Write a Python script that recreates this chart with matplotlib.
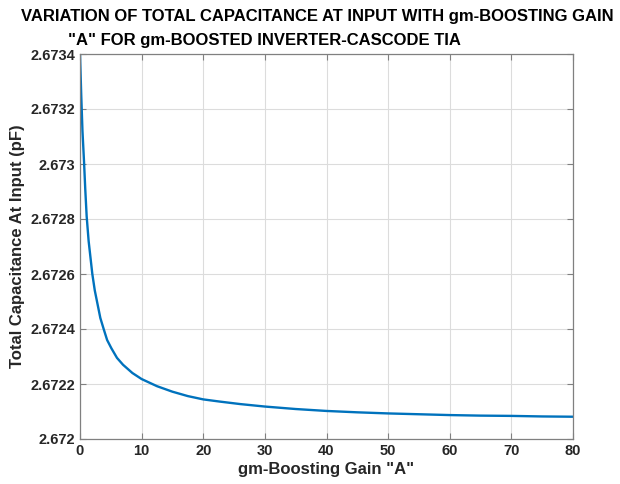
import matplotlib
matplotlib.use("Agg")
import matplotlib.pyplot as plt

plt.rcParams['font.family'] = ['Liberation Sans', 'DejaVu Sans']

# values (gain A vs total input capacitance in pF)
gain_a = [0, 0.2, 0.4, 0.65, 0.85, 1.08, 1.4, 1.7, 2.0, 2.4, 2.76, 3.3,
          3.84, 4.4, 5.09, 6.0, 6.98, 8.5, 10, 12.5, 15, 17.5, 20, 22.7, 26,
          30, 35, 40, 45, 50, 55, 60, 65, 70, 75, 80]
cap_pf = [2.67340, 2.67325, 2.67312, 2.67301, 2.67291, 2.67281, 2.67272,
          2.67266, 2.67260, 2.67254, 2.67250, 2.67244, 2.67240, 2.67236,
          2.67233, 2.672295, 2.67227, 2.67224, 2.672218, 2.672192,
          2.672172, 2.672156, 2.672144, 2.672136, 2.672127, 2.672118,
          2.672109, 2.672102, 2.672097, 2.672093, 2.672090, 2.672087,
          2.672085, 2.672084, 2.672082, 2.672081]

x_ticks = [0, 10, 20, 30, 40, 50, 60, 70, 80]
y_ticks = [2.672, 2.6722, 2.6724, 2.6726, 2.6728, 2.673, 2.6732, 2.6734]
y_tick_labels = ['2.672', '2.6722', '2.6724', '2.6726', '2.6728', '2.673', '2.6732', '2.6734']

title_1 = 'VARIATION OF TOTAL CAPACITANCE AT INPUT WITH gm-BOOSTING GAIN'
title_2 = '"A" FOR gm-BOOSTED INVERTER-CASCODE TIA'

fig = plt.figure(figsize=(6.2, 4.84), dpi=100)
ax = fig.add_axes([80 / 620, 1 - 439 / 484, 493 / 620, 385 / 484])

ax.plot(gain_a, cap_pf, color='#0072BD', linewidth=1.7)

ax.set_xlim(0, 80)
ax.set_ylim(2.672, 2.6734)
ax.set_xticks(x_ticks)
ax.set_xticklabels([str(t) for t in x_ticks])
ax.set_yticks(y_ticks)
ax.set_yticklabels(y_tick_labels)

ax.grid(True, color='#dcdcdc', linewidth=0.8)
ax.set_axisbelow(True)
for s in ax.spines.values():
    s.set_color('#808080')
    s.set_linewidth(0.9)
ax.tick_params(direction='in', length=4, color='#808080', top=True, right=True,
               labelcolor='#262626', labelsize=10.5)
for lab in ax.get_xticklabels() + ax.get_yticklabels():
    lab.set_fontweight('bold')

ax.set_xlabel('gm-Boosting Gain "A"', fontsize=12, fontweight='bold', color='#262626', labelpad=3)
ax.set_ylabel('Total Capacitance At Input (pF)', fontsize=12, fontweight='bold', color='#262626', labelpad=4)

fig.text(317 / 620, 1 - 17 / 484, title_1, ha='center', va='center',
         fontsize=12, fontweight='bold', color='black')
fig.text(68 / 620, 1 - 40 / 484, title_2, ha='left', va='center',
         fontsize=12, fontweight='bold', color='black')

fig.savefig('out.png', dpi=100)
